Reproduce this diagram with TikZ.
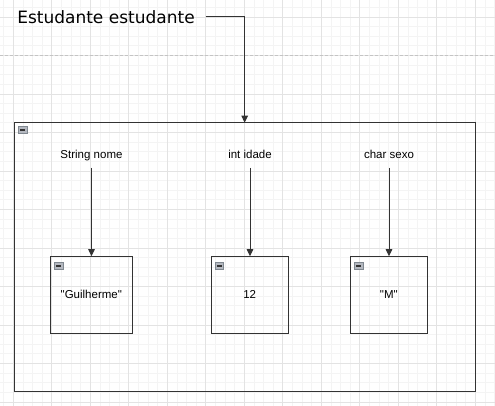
\documentclass[tikz,border=0pt]{standalone}
\usepackage{fontspec}
\setmainfont{Liberation Sans}
\newfontfamily\titlefont{DejaVu Sans}
\newfontfamily\drawiofont{Liberation Sans}
\usepackage{tikz}
\definecolor{ink}{HTML}{000000}
\definecolor{edge}{HTML}{333333}
\definecolor{gridminor}{HTML}{F4F4F4}
\definecolor{gridmajor}{HTML}{E3E3E3}
\definecolor{pagebreak}{HTML}{C4C4C4}
\definecolor{foldfill}{HTML}{B4B8C0}
\definecolor{folddraw}{HTML}{808890}
\usetikzlibrary{
  arrows.meta,
  positioning,
  calc
}
\tikzset{
  >={Triangle[length=7pt,width=6.5pt]},
  every picture/.style={line cap=butt, line join=miter},
  every node/.style={text=ink},
  title/.style={
    font=\titlefont\fontsize{17}{20}\selectfont,
    inner xsep=11pt,
    inner ysep=0pt,
    text height=13pt,
    text depth=0pt
  },
  objbox/.style={
    draw=edge,
    line width=1pt,
    anchor=north west,
    inner sep=0pt,
    outer sep=0pt
  },
  attr/.style={
    font=\drawiofont\fontsize{11.5}{13}\selectfont,
    text height=8.5pt,
    text depth=2.5pt,
    inner xsep=2pt,
    inner ysep=7pt
  },
  valbox/.style={
    draw=edge,
    line width=1pt,
    font=\drawiofont\fontsize{11.5}{13}\selectfont,
    minimum width=77pt,
    minimum height=77pt,
    inner sep=0pt,
    outer sep=0pt
  },
  fold/.style={
    draw=folddraw,
    fill=foldfill,
    line width=0.6pt,
    minimum width=8.5pt,
    minimum height=7.5pt,
    inner sep=0pt,
    path picture={
      \draw[edge, line width=1.3pt]
        ($(path picture bounding box.west)+(1.8pt,0)$) -- ($(path picture bounding box.east)+(-1.8pt,0)$);
    }
  },
  arrow/.style={->, line width=1pt, draw=edge},
  grid minor/.style={line width=0.8pt, draw=gridminor},
  grid major/.style={line width=0.8pt, draw=gridmajor}
}

\begin{document}
\begin{tikzpicture}[x=1pt, y=-1pt]
  % Canvas and grid
  \useasboundingbox (0,0) rectangle (495,406);
  \fill[white] (0,0) rectangle (495,406);
  \foreach \i in {0,...,51}
    \draw[grid minor] ({3.675+9.625*\i},0) -- ++(0,406);
  \foreach \i in {0,...,42}
    \draw[grid minor] (0,{7.375+9.625*\i}) -- ++(495,0);
  \foreach \i in {0,...,12}
    \draw[grid major] ({13.3+38.5*\i},0) -- ++(0,406);
  \foreach \i in {0,...,10}
    \draw[grid major] (0,{17+38.5*\i}) -- ++(495,0);
  \draw[pagebreak, line width=0.8pt, dash pattern=on 3pt off 2pt] (0,55.5) -- (495,55.5);

  % Reference and object
  \node[title] (cls) at (106,17) {Estudante estudante};
  \node[objbox, minimum width=461.3pt, minimum height=268.3pt] (obj) at (14,122.7) {};
  \node[fold, below right=3.3pt and 4.3pt of obj.north west] (fobj) {};

  % Fields
  \node[attr] (nome) at (91.5,155.3) {String nome};
  \node[attr] (idade) at (250,155.3) {int idade};
  \node[attr] (sexo) at (389,155.3) {char sexo};

  % Values
  \node[valbox, minimum width=82pt] (vnome) at (91.3,294.7) {"Guilherme"};
  \node[valbox] (vidade) at (249.7,294.7) {12};
  \node[valbox] (vsexo) at (388.8,294.7) {"M"};
  \node[fold, below right=5.7pt and 3.7pt of vnome.north west] (fnome) {};
  \node[fold, below right=5.7pt and 3.7pt of vidade.north west] (fidade) {};
  \node[fold, below right=5.7pt and 3.7pt of vsexo.north west] (fsexo) {};

  % Links
  \draw[arrow] (cls.east) -| (obj.north);
  \draw[arrow] (nome.south) -- (nome.south |- vnome.north);
  \draw[arrow] (idade.south) -- (idade.south |- vidade.north);
  \draw[arrow] (sexo.south) -- (sexo.south |- vsexo.north);
\end{tikzpicture}
\end{document}
